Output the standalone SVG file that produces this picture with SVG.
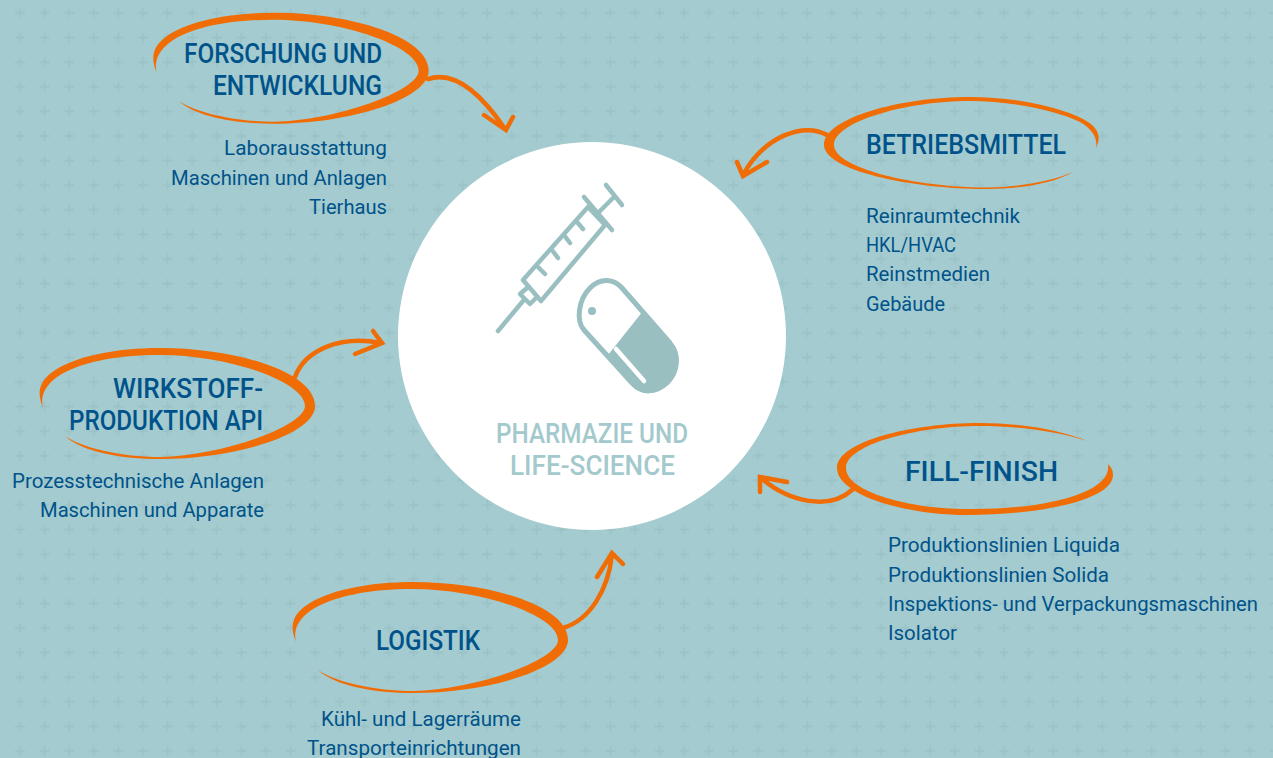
<svg xmlns="http://www.w3.org/2000/svg" xmlns:xlink="http://www.w3.org/1999/xlink" width="1273" height="758" viewBox="0 0 1273 758">
<style>
.t{font-family:"Roboto","Liberation Sans",sans-serif;font-size:28px;font-weight:500;fill:#00538A}
.b{font-family:"Roboto","Liberation Sans",sans-serif;font-size:21px;font-weight:400;fill:#00538A}
.c{font-family:"Roboto","Liberation Sans",sans-serif;font-size:28px;font-weight:500;fill:#A3C9CC}
.sw{fill:#F06C05}
.ar{fill:none;stroke:#F06C05;stroke-width:4.500;stroke-linecap:round;stroke-linejoin:miter}
.ic{fill:none;stroke:#9ABFC1;stroke-width:4.500;stroke-linecap:round;stroke-linejoin:round}
</style>
<defs>
<pattern id="grid" width="24.6" height="24.6" patternUnits="userSpaceOnUse" patternTransform="translate(7.7 0.7)">
<path d="M7.3 12.3H17.3M12.3 7.3V17.3" stroke="#9BC3C7" stroke-width="1.8" fill="none"/>
</pattern>
<path id="swoosh" class="sw" d="M296 642C291 630 290 618 304 607C326 590 370 582 413 582C490 582 568 606 568 640C568 668 490 693 413 693C375 693 335 686 318 670C335 682 375 691 413 691C475 690 558 660 558 640C558 615 480 589 413 589C370 589 332 596 310 611C298 620 293 630 296 642Z"/>
</defs>
<rect width="1273" height="758" fill="#A4CBCF"/>
<rect width="1273" height="758" fill="url(#grid)"/>

<g id="connectors">
<path class="ar" d="M428 79C455 70 482 95 505 129M484 115L506 130L513 117"/>
<path class="ar" d="M827 135C805 122 765 135 743 175M737 162L743 176L767 162"/>
<path class="ar" d="M852 490C830 510 790 503 761 478M760 492L760 477L787 482"/>
<path class="ar" d="M563 628C590 620 608 590 612 555M597 577L612 553L623 564"/>
<path class="ar" d="M295 377C305 350 340 335 381 343M373 331L382 343L355 354"/>
</g>

<g id="center">
<circle cx="592" cy="336" r="194" fill="#fff"/>
<g id="syringe" class="ic">
<path d="M523 280L588 207L605 225L541 301Z"/>
<path d="M584 197L612 230M598 213L613 198M606 185L622 205"/>
<path d="M577 222L583 229M564 235L570 243M552 250L558 258M538 267L545 274"/>
<path d="M527 288L520 294L530 304L537 297"/>
<path d="M523 301L498 331"/>
</g>
<g id="capsule">
<path d="M643 311L670 343C680 355 678 372 667 383C656 393 642 394 632 383L608 355Z" fill="#9ABFC1"/>
<path class="ic" style="stroke-width:5" d="M622 288L670 343C680 355 678 372 667 383C656 393 642 394 632 383L584 330C576 321 578 300 590 288C601 277 614 279 622 288Z"/>
<path d="M616 349L644 381" stroke="#fff" stroke-width="4.500" stroke-linecap="round" fill="none"/>
<circle cx="592" cy="311" r="4" fill="#9ABFC1"/>
</g>
<text class="c" x="496" y="443" textLength="192" lengthAdjust="spacingAndGlyphs">PHARMAZIE UND</text>
<text class="c" x="510" y="475" textLength="165" lengthAdjust="spacingAndGlyphs">LIFE-SCIENCE</text>
</g>

<g id="forschung">
<use xlink:href="#swoosh" href="#swoosh" transform="translate(-139.3 -569.3)"/>
<text class="t" x="184" y="63" textLength="198" lengthAdjust="spacingAndGlyphs">FORSCHUNG UND</text>
<text class="t" x="213" y="95" textLength="169" lengthAdjust="spacingAndGlyphs">ENTWICKLUNG</text>
<text class="b" x="224" y="155" textLength="163" lengthAdjust="spacingAndGlyphs">Laborausstattung</text>
<text class="b" x="171" y="185" textLength="216" lengthAdjust="spacingAndGlyphs">Maschinen und Anlagen</text>
<text class="b" x="309" y="214" textLength="78" lengthAdjust="spacingAndGlyphs">Tierhaus</text>
</g>

<g id="betriebsmittel">
<path class="sw" d="M1096 148C1102 136 1098 127 1083 119C1055 105 1010 97 970 97C900 97 824 118 824 145C824 170 910 189 987 189C1020 189 1055 183 1073 172C1055 180 1020 187.500 987 187.500C915 187.500 834 168 834 145C834 122 905 101 970 101C1010 101 1055 110 1080 122C1092 129 1098 138 1096 148Z"/>
<text class="t" x="866" y="154" textLength="200" lengthAdjust="spacingAndGlyphs">BETRIEBSMITTEL</text>
<text class="b" x="866" y="223" textLength="154" lengthAdjust="spacingAndGlyphs">Reinraumtechnik</text>
<text class="b" x="866" y="252" textLength="90" lengthAdjust="spacingAndGlyphs">HKL/HVAC</text>
<text class="b" x="866" y="281" textLength="124" lengthAdjust="spacingAndGlyphs">Reinstmedien</text>
<text class="b" x="866" y="311" textLength="79" lengthAdjust="spacingAndGlyphs">Gebäude</text>
</g>

<g id="fill-finish">
<path class="sw" d="M1087 441C1060 430 1020 423 980 423C910 423 837 442 837 468C837 495 905 515 967 515C1040 515 1113 500 1113 475C1113 470 1111 467 1108 464C1113 494 1040 510 967 509C910 509 846 492 846 468C846 445 915 426 980 426C1020 426 1060 432 1087 441Z"/>
<text class="t" x="905" y="481" textLength="153" lengthAdjust="spacingAndGlyphs">FILL-FINISH</text>
<text class="b" x="888" y="552" textLength="232" lengthAdjust="spacingAndGlyphs">Produktionslinien Liquida</text>
<text class="b" x="888" y="582" textLength="221" lengthAdjust="spacingAndGlyphs">Produktionslinien Solida</text>
<text class="b" x="888" y="611" textLength="370" lengthAdjust="spacingAndGlyphs">Inspektions- und Verpackungsmaschinen</text>
<text class="b" x="888" y="640" textLength="69" lengthAdjust="spacingAndGlyphs">Isolator</text>
</g>

<g id="logistik">
<use xlink:href="#swoosh" href="#swoosh"/>
<text class="t" x="376" y="650" textLength="104" lengthAdjust="spacingAndGlyphs">LOGISTIK</text>
<text class="b" x="321" y="726" textLength="200" lengthAdjust="spacingAndGlyphs">Kühl- und Lagerräume</text>
<text class="b" x="307" y="755" textLength="214" lengthAdjust="spacingAndGlyphs">Transporteinrichtungen</text>
</g>

<g id="wirkstoff">
<use xlink:href="#swoosh" href="#swoosh" transform="translate(-253 -234)"/>
<text class="t" x="113" y="398" textLength="150" lengthAdjust="spacingAndGlyphs">WIRKSTOFF-</text>
<text class="t" x="69" y="430" textLength="194" lengthAdjust="spacingAndGlyphs">PRODUKTION API</text>
<text class="b" x="12" y="488" textLength="252" lengthAdjust="spacingAndGlyphs">Prozesstechnische Anlagen</text>
<text class="b" x="40" y="517" textLength="224" lengthAdjust="spacingAndGlyphs">Maschinen und Apparate</text>
</g>
</svg>
